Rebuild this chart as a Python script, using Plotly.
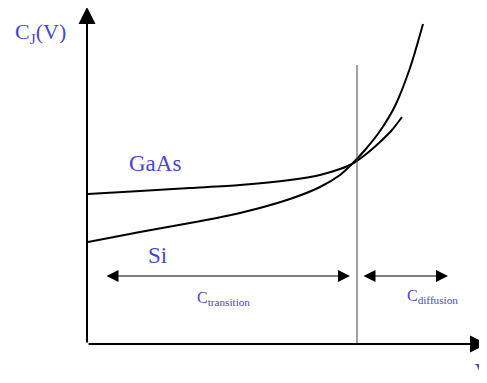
import plotly.graph_objects as go

# junction capacitance sketch, units are arbitrary (V right, C up)
gaas_v = [1, 53, 103, 153, 203, 233, 253, 265, 278, 293, 305, 315]
gaas_c = [150, 153, 156, 159, 164, 169, 175, 180, 189, 202, 214, 227]

si_v = [1, 53, 103, 153, 203, 233, 253, 265, 278, 293, 308, 323, 336]
si_c = [102, 112, 121, 131, 145, 157, 169, 180, 194, 213, 238, 276, 320]

v_split = 270          # border between transition and diffusion regions
arrow_c = 68           # height of the region arrows
transition_span = [18, 263]
diffusion_span = [275, 361]

blue = '#4646d8'
serif = 'Liberation Serif, Times New Roman, serif'

fig = go.Figure()

fig.add_trace(go.Scatter(x=gaas_v, y=gaas_c, mode='lines', line_shape='spline',
                         line=dict(color='black', width=2, smoothing=0.8), name='GaAs'))
fig.add_trace(go.Scatter(x=si_v, y=si_c, mode='lines', line_shape='spline',
                         line=dict(color='black', width=2, smoothing=0.8), name='Si'))

# vertical separator
fig.add_shape(type='line', x0=v_split, x1=v_split, y0=0, y1=279,
              line=dict(color='#444444', width=1))

# axes with arrow heads
fig.add_annotation(x=400, y=0, ax=0, ay=0, xref='x', yref='y', axref='x', ayref='y',
                   showarrow=True, arrowhead=2, arrowsize=1.7, arrowwidth=2, arrowcolor='black', text='')
fig.add_annotation(x=0, y=337, ax=0, ay=0, xref='x', yref='y', axref='x', ayref='y',
                   showarrow=True, arrowhead=2, arrowsize=1.7, arrowwidth=2, arrowcolor='black', text='')

# region arrows (double headed)
for a, b in [transition_span, diffusion_span]:
    fig.add_annotation(x=b, y=arrow_c, ax=a, ay=arrow_c, xref='x', yref='y', axref='x', ayref='y',
                       showarrow=True, arrowhead=2, startarrowhead=2, arrowside='end+start',
                       arrowsize=2, startarrowsize=2, arrowwidth=1.2, arrowcolor='black', text='')

labels = [
    ('C<sub>J</sub>(V)', -47, 311, 22, 'center'),
    ('GaAs', 68, 181, 23, 'center'),
    ('Si', 70, 89, 23, 'center'),
    ('C<sub>transition</sub>', 136, 46, 16, 'center'),
    ('C<sub>diffusion</sub>', 345, 48, 16, 'center'),
]
for txt, x, y, size, anchor in labels:
    fig.add_annotation(x=x, y=y, xref='x', yref='y', text=txt, showarrow=False,
                       xanchor=anchor, font=dict(family=serif, size=size, color=blue))

# axis name, cut by the right edge like in the original
fig.add_trace(go.Scatter(x=[396], y=[-29], mode='text', text=['V'], textposition='middle center',
                         cliponaxis=False, hoverinfo='skip',
                         textfont=dict(family=serif, size=24, color=blue)))

# page body has an 8px margin, so the figure is 8px smaller and the ranges start there
fig.update_xaxes(range=[-79, 400], visible=False)
fig.update_yaxes(range=[-39, 336], visible=False)
fig.update_layout(width=479, height=375, margin=dict(l=0, r=0, t=0, b=0),
                  paper_bgcolor='white', plot_bgcolor='white', showlegend=False)

fig.write_html("out.html")
